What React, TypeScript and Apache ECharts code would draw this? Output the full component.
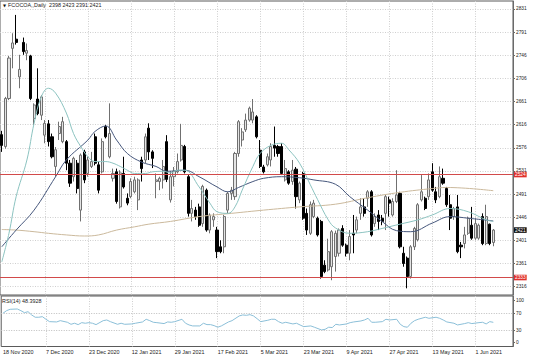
import React, { useEffect, useRef } from 'react';
import * as echarts from 'echarts';

const symbolName = 'FCOCOA,';
const timeframe = 'Daily';
const dateTicks = ['18 Nov 2020', '7 Dec 2020', '23 Dec 2020', '12 Jan 2021', '29 Jan 2021', '17 Feb 2021', '5 Mar 2021', '23 Mar 2021', '9 Apr 2021', '27 Apr 2021', '13 May 2021', '1 Jun 2021'];
const barsPerTick = 12;
const slotCount = 143;

const opens = [2598, 2576, 2665, 2758, 2775, 2705, 2769, 2749, 2744, 2628, 2664, 2634, 2597, 2618, 2594, 2539, 2600, 2585, 2585, 2545, 2520, 2545, 2458, 2566, 2526, 2539, 2594, 2542, 2529, 2613, 2557, 2517, 2529, 2464, 2526, 2480, 2483, 2492, 2477, 2551, 2551, 2610, 2566, 2511, 2511, 2514, 2585, 2477,
  2520, 2529, 2551, 2576, 2520, 2452, 2458, 2464, 2433, 2495, 2421, 2440, 2421, 2390, 2390, 2458, 2489, 2483, 2563, 2588, 2607, 2625, 2625, 2631, 2569, 2538, 2542, 2551, 2578, 2576, 2576, 2514, 2529, 2511, 2534, 2477, 2526, 2452, 2415, 2446, 2443, 2437, 2356, 2347,
  2353, 2372, 2378, 2424, 2393, 2378, 2415, 2421, 2452, 2464, 2480, 2492, 2433, 2449, 2443, 2452, 2477, 2449, 2474, 2489, 2378, 2369, 2335, 2390, 2403, 2477, 2480, 2483, 2529, 2492, 2483, 2517, 2498, 2468, 2446, 2464, 2393, 2396, 2415, 2430, 2406, 2406, 2446, 2396, 2432, 2398];
const highs = [2605, 2668, 2744, 2786, 2820, 2746, 2778, 2767, 2746, 2656, 2721, 2671, 2625, 2625, 2600, 2575, 2622, 2631, 2588, 2551, 2557, 2551, 2563, 2570, 2557, 2566, 2600, 2548, 2591, 2616, 2656, 2535, 2535, 2532, 2557, 2489, 2517, 2520, 2517, 2557, 2600, 2619, 2569, 2526, 2520, 2551, 2597, 2530,
  2538, 2563, 2618, 2579, 2523, 2477, 2464, 2470, 2505, 2498, 2452, 2452, 2427, 2402, 2449, 2492, 2501, 2566, 2625, 2610, 2637, 2650, 2664, 2634, 2588, 2542, 2563, 2582, 2613, 2579, 2582, 2551, 2532, 2551, 2538, 2511, 2529, 2461, 2474, 2477, 2446, 2440, 2365, 2405,
  2421, 2420, 2424, 2430, 2396, 2421, 2449, 2446, 2480, 2480, 2495, 2495, 2452, 2458, 2449, 2486, 2483, 2480, 2532, 2492, 2390, 2372, 2393, 2427, 2471, 2523, 2483, 2526, 2545, 2501, 2539, 2535, 2501, 2486, 2464, 2486, 2399, 2427, 2446, 2464, 2443, 2433, 2452, 2468, 2433, 2423];
const lows = [2566, 2572, 2662, 2721, 2765, 2684, 2746, 2736, 2662, 2616, 2634, 2625, 2582, 2576, 2554, 2520, 2588, 2582, 2532, 2501, 2511, 2489, 2437, 2508, 2520, 2536, 2541, 2489, 2526, 2591, 2554, 2511, 2470, 2461, 2498, 2467, 2480, 2489, 2458, 2511, 2545, 2551, 2536, 2480, 2495, 2498, 2510, 2472,
  2502, 2526, 2548, 2526, 2446, 2437, 2440, 2427, 2427, 2418, 2415, 2427, 2369, 2378, 2378, 2452, 2477, 2477, 2557, 2576, 2603, 2622, 2619, 2591, 2536, 2526, 2539, 2539, 2557, 2557, 2523, 2511, 2505, 2505, 2461, 2471, 2440, 2412, 2412, 2443, 2409, 2331, 2341, 2344,
  2328, 2344, 2372, 2390, 2372, 2365, 2378, 2415, 2440, 2446, 2464, 2409, 2427, 2421, 2430, 2421, 2446, 2446, 2471, 2387, 2353, 2313, 2331, 2384, 2400, 2474, 2458, 2477, 2492, 2471, 2480, 2505, 2464, 2421, 2440, 2378, 2369, 2387, 2412, 2403, 2403, 2403, 2393, 2393, 2393, 2391];
const closes = [2578, 2665, 2740, 2768, 2769, 2719, 2752, 2754, 2665, 2653, 2637, 2668, 2619, 2585, 2557, 2570, 2613, 2622, 2545, 2508, 2554, 2498, 2560, 2514, 2551, 2548, 2545, 2495, 2585, 2594, 2600, 2526, 2474, 2527, 2501, 2471, 2511, 2514, 2514, 2535, 2594, 2566, 2554, 2514, 2517, 2539, 2515, 2520,
  2530, 2548, 2578, 2529, 2452, 2461, 2446, 2430, 2502, 2421, 2449, 2446, 2381, 2381, 2446, 2489, 2495, 2563, 2622, 2603, 2625, 2647, 2640, 2594, 2539, 2529, 2557, 2576, 2573, 2563, 2526, 2535, 2508, 2532, 2483, 2508, 2443, 2421, 2468, 2471, 2412, 2335, 2344, 2381,
  2418, 2415, 2421, 2393, 2378, 2409, 2412, 2440, 2464, 2452, 2492, 2412, 2446, 2437, 2437, 2483, 2471, 2474, 2486, 2390, 2359, 2335, 2390, 2424, 2468, 2492, 2461, 2514, 2495, 2477, 2520, 2508, 2468, 2443, 2461, 2381, 2390, 2412, 2443, 2406, 2433, 2430, 2396, 2446, 2396, 2421];

const maFast: [number, number][] = [[0, 2362], [2, 2415], [4, 2483], [7, 2551], [9, 2619], [11, 2668], [13, 2684], [15, 2675], [18, 2638], [20, 2600], [22, 2576], [24, 2557], [26, 2548], [29, 2548], [31, 2545], [33, 2539], [35, 2532], [37, 2526], [40, 2526], [42, 2529], [45, 2530], [47, 2527], [49, 2532], [51, 2532], [55, 2501], [58, 2471], [60, 2455], [63, 2452], [65, 2464], [67, 2495], [70, 2539], [72, 2563], [75, 2578], [78, 2582], [80, 2570], [83, 2545], [86, 2505], [88, 2478], [91, 2440], [93, 2425], [97, 2415], [102, 2418], [106, 2424], [111, 2432], [116, 2440], [120, 2449], [125, 2461], [130, 2455], [135, 2440], [137, 2437]];
const maMid: [number, number][] = [[0, 2390], [4, 2421], [9, 2458], [15, 2520], [18, 2551], [24, 2588], [26, 2604], [29, 2614], [32, 2588], [35, 2563], [39, 2547], [43, 2539], [46, 2530], [51, 2532], [55, 2520], [60, 2501], [63, 2492], [66, 2500], [70, 2511], [73, 2517], [78, 2520], [83, 2518], [87, 2514], [93, 2506], [97, 2483], [102, 2458], [106, 2437], [110, 2420], [114, 2418], [120, 2434], [125, 2446], [130, 2443], [137, 2438]];
const maSlow: [number, number][] = [[0, 2422], [4, 2421], [9, 2418], [13, 2415], [18, 2412], [23, 2410], [27, 2412], [32, 2421], [37, 2427], [41, 2432], [47, 2437], [55, 2446], [64, 2452], [73, 2458], [83, 2464], [93, 2469], [102, 2481], [111, 2491], [120, 2498], [124, 2500], [137, 2494]];
const rsi: [number, number][] = [[0, 70.0], [1, 76.2], [2, 79.5], [4, 80.2], [5, 76.2], [6, 71.4], [7, 73.8], [8, 66], [9, 60.5], [10, 60.5], [11, 61.9], [12, 55.7], [13, 50], [15, 49.3], [16, 52.4], [18, 48.5], [19, 43.7], [20, 46.2], [21, 42.9], [22, 47.6], [23, 46.2], [24, 47.6], [25, 46.2], [26, 42.9], [28, 52.4], [29, 54], [30, 50], [32, 43.7], [33, 46.2], [34, 43.7], [36, 44.5], [37, 46.2], [39, 49.3], [40, 55.7], [41, 52.4], [42, 48.5], [43, 47.6], [45, 45.4], [46, 49.3], [47, 48.5], [48, 50], [50, 55.7], [51, 46.2], [52, 42.1], [53, 39.8], [55, 39.8], [56, 46.2], [57, 42.9], [58, 42.9], [59, 40.5], [60, 36.7], [61, 39.8], [63, 49.3], [64, 52.4], [66, 63.6], [67, 66], [68, 65.1], [69, 66.7], [70, 63.6], [71, 57.1], [72, 50], [74, 53.3], [75, 55.7], [76, 55.7], [77, 50], [78, 46.2], [79, 48.5], [81, 44.5], [82, 46.2], [83, 42.1], [84, 38.1], [86, 39.8], [87, 36.7], [89, 30.2], [90, 31.7], [91, 36.7], [92, 35.9], [93, 43.7], [94, 42.1], [96, 44.5], [97, 47.6], [98, 49.3], [100, 51.6], [101, 54], [102, 58], [103, 48.5], [104, 48.5], [106, 50], [107, 55.7], [108, 54], [110, 55.7], [111, 43.7], [112, 38.1], [113, 36.7], [114, 46.2], [115, 52.4], [116, 55.7], [118, 60.5], [119, 58], [121, 60.5], [122, 58], [123, 54], [124, 49.3], [126, 46.2], [127, 42.1], [129, 45.4], [130, 47.6], [131, 45.4], [133, 47.6], [134, 48.5], [135, 44.5], [136, 50], [137, 48.39]];
const rsiLast = '48.3928';
const rsiPeriod = 14;

const priceTicks = [2316, 2361, 2401, 2446, 2491, 2531, 2576, 2616, 2661, 2706, 2746, 2791, 2831];
const levelLines = [2524, 2333];
const rsiTicks = [0, 30, 70, 100];
const rsiLevels = [30, 70];

const FONT = 'Liberation Sans';

export default function App() {
  const ref = useRef<HTMLDivElement>(null);
  useEffect(() => {
    if (!ref.current) return;
    const chart = echarts.init(ref.current, undefined, { renderer: 'svg' });
    const n = closes.length;
    const candleData = opens.map((o, i) => [o, closes[i], lows[i], highs[i]]);
    const categories = Array.from({ length: slotCount }, (_, i) => String(i));
    const isTick = (i: number) => i % barsPerTick === 0 && i / barsPerTick < dateTicks.length;
    const p0 = priceTicks[0];
    const pN = priceTicks[priceTicks.length - 1];
    const step = (pN - p0) / (priceTicks.length - 1);
    const gridVals = priceTicks.map((_, k) => p0 + k * step);
    const priceFmt = (v: number) => {
      const k = Math.round((v - p0) / step);
      return priceTicks[k] != null ? String(priceTicks[k]) : '';
    };
    const gridLine = { show: true, lineStyle: { color: '#cfcfcf', type: [1, 1.5] as any, width: 1 } };
    const last = n - 1;

    chart.setOption({
      animation: false,
      backgroundColor: '#ffffff',
      textStyle: { fontFamily: FONT },
      grid: [
        { left: 0, top: 1, width: 513, height: 294, show: true, borderColor: '#5a5a5a', borderWidth: 1, backgroundColor: 'transparent' },
        { left: 0, top: 296, width: 513, height: 50.5, show: true, borderColor: '#5a5a5a', borderWidth: 1, backgroundColor: 'transparent' },
      ],
      xAxis: [
        {
          type: 'category', gridIndex: 0, data: categories, boundaryGap: true,
          axisLine: { show: false }, axisTick: { show: false }, axisLabel: { show: false },
          splitLine: { ...gridLine, interval: (i: number) => isTick(i) && i > 0, alignWithLabel: true },
        },
        {
          type: 'category', gridIndex: 1, data: categories, boundaryGap: true,
          axisLine: { show: false }, axisTick: { show: false },
          axisLabel: {
            show: true, interval: (i: number) => isTick(i),
            formatter: (_v: string, i: number) => dateTicks[i / barsPerTick] ?? '',
            align: 'left', fontSize: 5.4, color: '#222', margin: 3, fontFamily: FONT,
          },
          splitLine: { ...gridLine, interval: (i: number) => isTick(i) && i > 0, alignWithLabel: true },
        },
      ],
      yAxis: [
        {
          type: 'value', gridIndex: 0, position: 'right', min: 2300.6, max: 2845.8,
          axisLine: { show: true, lineStyle: { color: '#6a6a6a' } },
          axisTick: { show: true, length: 2, customValues: gridVals, lineStyle: { color: '#6a6a6a' } },
          axisLabel: { customValues: gridVals, formatter: priceFmt, fontSize: 4.8, color: '#222', margin: 3, fontFamily: FONT },
          splitLine: gridLine,
        },
        {
          type: 'value', gridIndex: 1, position: 'right', min: -9.3, max: 111.2,
          axisLine: { show: true, lineStyle: { color: '#6a6a6a' } },
          axisTick: { show: true, length: 2, customValues: rsiTicks, lineStyle: { color: '#6a6a6a' } },
          axisLabel: { customValues: rsiTicks, fontSize: 4.8, color: '#222', margin: 3, fontFamily: FONT },
          splitLine: { show: false },
        },
      ],
      graphic: [
        { type: 'text', left: 3, top: 3.2, style: { text: '▼', fontSize: 4, fill: '#111', fontFamily: 'DejaVu Sans' } },
        {
          type: 'text', left: 8, top: 2.4,
          style: { text: `${symbolName},${timeframe}  ${opens[last]} ${highs[last]} ${lows[last]} ${closes[last]}`, fontSize: 5.4, fill: '#222', fontFamily: FONT },
        },
        { type: 'text', left: 2, top: 298.6, style: { text: `RSI(${rsiPeriod}) ${rsiLast}`, fontSize: 5.4, fill: '#222', fontFamily: FONT } },
      ],
      series: [
        {
          type: 'candlestick', xAxisIndex: 0, yAxisIndex: 0, data: candleData, barWidth: 2.6, clip: false,
          itemStyle: { color: '#e4e4e4', color0: '#000000', borderColor: '#707070', borderColor0: '#000000', borderWidth: 1 },
          markLine: {
            silent: true, symbol: 'none', animation: false,
            label: {
              show: true, position: 'end', distance: 1, color: '#ffffff', fontSize: 4.8, fontFamily: FONT,
              padding: [0.6, 1, 0, 1], formatter: (p: any) => String(p.value),
            },
            data: [
              ...levelLines.map((v) => ({ yAxis: v, lineStyle: { color: '#d24a4a', width: 1, type: 'solid' }, label: { backgroundColor: '#e0302c' } })),
              { yAxis: closes[last], lineStyle: { color: 'rgba(0,0,0,0)', width: 1, type: 'solid' }, label: { backgroundColor: '#111111' } },
            ],
          },
        },
        { type: 'line', xAxisIndex: 0, yAxisIndex: 0, data: maSlow, showSymbol: false, smooth: 0.4, lineStyle: { color: '#cbb99c', width: 1 } },
        { type: 'line', xAxisIndex: 0, yAxisIndex: 0, data: maMid, showSymbol: false, smooth: 0.4, lineStyle: { color: '#46577c', width: 1 } },
        { type: 'line', xAxisIndex: 0, yAxisIndex: 0, data: maFast, showSymbol: false, smooth: 0.4, lineStyle: { color: '#8cc3c0', width: 1 } },
        {
          type: 'line', xAxisIndex: 1, yAxisIndex: 1, data: rsi, showSymbol: false, lineStyle: { color: '#8bbfd8', width: 1 },
          markLine: {
            silent: true, symbol: 'none', animation: false, label: { show: false },
            lineStyle: { color: '#bdbdbd', type: [1, 1.5] as any, width: 1 },
            data: rsiLevels.map((v) => ({ yAxis: v })),
          },
        },
      ],
    });
    return () => chart.dispose();
  }, []);
  return <div ref={ref} style={{ position: 'absolute', left: 0, top: 0, width: 536, height: 357, background: '#fff' }} />;
}
